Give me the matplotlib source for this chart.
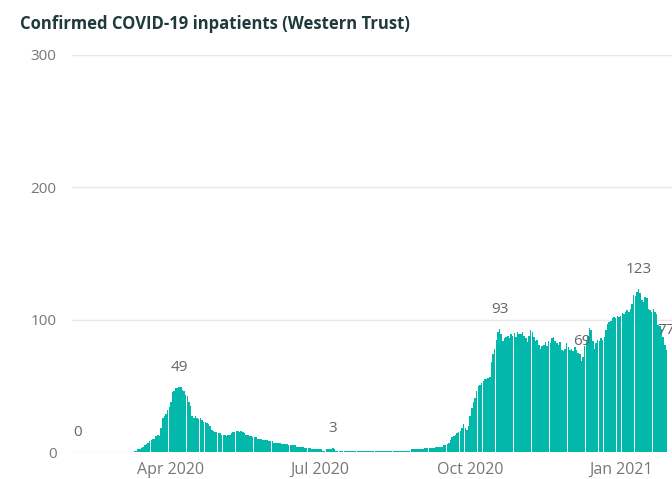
import numpy as np
import pandas as pd
import matplotlib
matplotlib.use("Agg")
import matplotlib.pyplot as plt
import matplotlib.dates as mdates

plt.rcParams['font.family'] = ['Open Sans', 'DejaVu Sans']

# daily confirmed inpatients, 4 Feb 2020 - 29 Jan 2021
feb20 = [0] * 26
mar20 = [0, 0, 0, 0, 0, 0, 0, 0, 0, 1, 1, 2, 2, 3, 4, 5, 6, 7, 8, 9,
         10, 10, 12, 13, 12, 18, 26, 27, 29, 32, 34]
apr20 = [38, 45, 46, 48, 48, 49, 49, 47, 46, 43, 42, 38, 35, 27, 26,
         27, 26, 25, 26, 24, 23, 23, 22, 21, 20, 17, 16, 15, 15, 14]
may20 = [14, 13, 13, 13, 12, 13, 13, 14, 15, 15, 16, 16, 15, 16, 15,
         14, 13, 13, 12, 12, 11, 11, 11, 10, 10, 10, 9, 9, 9, 9, 8]
jun20 = [8, 8, 7, 7, 7, 7, 7, 6, 6, 6, 6, 5, 5, 5, 5, 5, 4, 4, 4, 4,
         4, 3, 3, 3, 3, 2, 2, 2, 2, 2]
jul20 = [2, 2, 1, 1, 2, 2, 2, 2, 3, 2, 1, 1, 1, 1, 1, 1, 1, 1, 1, 1,
         1, 1, 1, 1, 1, 1, 1, 1, 1, 1, 1]
aug20 = [1, 1, 1, 1, 1, 1, 1, 1, 1, 1, 1, 1, 1, 1, 1, 1, 1, 1, 1, 1,
         1, 1, 1, 1, 1, 2, 2, 2, 2, 2, 2]
sep20 = [2, 2, 3, 3, 3, 3, 3, 3, 3, 4, 4, 4, 4, 4, 5, 5, 6, 7, 9, 11,
         12, 13, 14, 15, 16, 18, 21, 18, 17, 20]
oct20 = [27, 33, 38, 41, 46, 50, 51, 52, 54, 55, 55, 56, 57, 68, 74,
         78, 85, 91, 93, 89, 84, 86, 87, 88, 86, 89, 88, 90, 87, 91, 89]
nov20 = [89, 91, 88, 86, 83, 88, 92, 91, 87, 84, 85, 81, 78, 80, 81,
         83, 80, 84, 82, 86, 87, 84, 82, 81, 83, 77, 76, 78, 82, 79]
dec20 = [77, 78, 76, 79, 77, 75, 74, 69, 72, 80, 85, 88, 94, 92, 84,
         78, 82, 85, 84, 86, 85, 87, 92, 97, 98, 99, 101, 102, 101, 103, 102]
jan21 = [103, 105, 104, 106, 107, 106, 108, 112, 119, 118, 121, 123,
         120, 115, 113, 117, 116, 108, 107, 106, 108, 106, 104, 96, 95,
         93, 87, 81, 77]

values = feb20 + mar20 + apr20 + may20 + jun20 + jul20 + aug20 + sep20 \
    + oct20 + nov20 + dec20 + jan21
dates = pd.date_range("2020-02-04", periods=len(values), freq="D")

label_dates = ["2020-02-04", "2020-04-06", "2020-07-09", "2020-10-19",
               "2020-12-08", "2021-01-12", "2021-01-29"]

tick_dates = ["2020-04-01", "2020-07-01", "2020-10-01", "2021-01-01"]
tick_labels = ["Apr 2020", "Jul 2020", "Oct 2020", "Jan 2021"]

teal = "#01B8AA"
grey = "#777777"

fig = plt.figure(figsize=(6.72, 4.79), dpi=100)
ax = fig.add_axes([72 / 672, 27 / 479, 1 - 72 / 672, 397 / 479])

ax.bar(dates, values, width=0.93, color=teal, linewidth=0, zorder=3)

s = pd.Series(values, index=dates)
for d in label_dates:
    v = s[pd.Timestamp(d)]
    ax.annotate(str(v), (pd.Timestamp(d), v), xytext=(0, 14),
                textcoords="offset points", ha="center", va="center",
                fontsize=11, color="#666666", annotation_clip=False)

ax.set_ylim(0, 300)
ax.set_yticks([0, 100, 200, 300])
ax.set_xlim(pd.Timestamp("2020-01-31 12:00"), pd.Timestamp("2021-02-01 10:00"))
ax.set_xticks([pd.Timestamp(t) for t in tick_dates])
ax.set_xticklabels(tick_labels)

ax.grid(axis="y", color="#e8e8e8", linewidth=1, zorder=0)
for sp in ax.spines.values():
    sp.set_visible(False)
ax.tick_params(axis="both", length=0, labelcolor=grey)
ax.tick_params(axis="y", pad=11, labelsize=11)
ax.tick_params(axis="x", pad=7, labelsize=11.5)

fig.text(20 / 672, 1 - 24 / 479, "Confirmed COVID-19 inpatients (Western Trust)",
         fontsize=12, fontweight="bold", color="#1f3a3a", va="center")

fig.savefig("out.png", dpi=100)
